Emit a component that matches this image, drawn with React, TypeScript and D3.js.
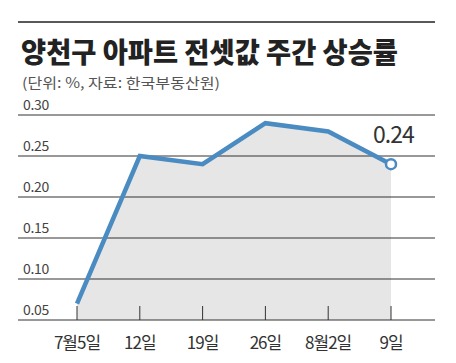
import React from 'react';
import * as d3 from 'd3';

const weeks = ['7월5일', '12일', '19일', '26일', '8월2일', '9일'];
const rates = [0.07, 0.25, 0.24, 0.29, 0.28, 0.24];
const yTicks = [0.05, 0.10, 0.15, 0.20, 0.25, 0.30];

const W = 456;
const H = 363;
const font = "'Noto Sans CJK KR', 'Noto Sans', sans-serif";

export default function App() {
    const x = d3.scalePoint<string>().domain(weeks).range([77, 391]);
    const y = d3.scaleLinear().domain([0.05, 0.30]).range([320, 115]);

    const pts = weeks.map((w, i) => [x(w) as number, y(rates[i])] as [number, number]);
    const line = d3.line<[number, number]>()(pts) as string;
    const area = d3.area<[number, number]>()
        .x(d => d[0])
        .y0(y(0.05))
        .y1(d => d[1])(pts) as string;

    const last = pts[pts.length - 1];

    return (
        <svg width={W} height={H} style={{ position: 'absolute', left: 0, top: 0 }} fontFamily={font}>
            <rect width={W} height={H} fill="#fff" />
            <line x1={18} x2={435} y1={22} y2={22} stroke="#222" strokeWidth={1.5} />
            <text x={21} y={63} fontSize={28} fontWeight={900} fill="#222"
                textLength={377} lengthAdjust="spacingAndGlyphs">
                양천구 아파트 전셋값 주간 상승률
            </text>
            <text x={22} y={87.5} fontSize={14} fill="#555" textLength={198} lengthAdjust="spacingAndGlyphs">
                (단위: %, 자료: 한국부동산원)
            </text>

            <path d={area} fill="#e6e6e6" />

            {yTicks.map(t => (
                <g key={t}>
                    <line x1={18} x2={435} y1={y(t)} y2={y(t)} stroke="#333" strokeWidth={1} />
                    <text x={23} y={y(t) - 5} fontSize={14} fill="#444" letterSpacing={-0.3}>
                        {t.toFixed(2)}
                    </text>
                </g>
            ))}

            {weeks.map(w => (
                <g key={w}>
                    <line x1={x(w)} x2={x(w)} y1={306} y2={y(0.05)} stroke="#333" strokeWidth={1} />
                    <text x={x(w)} y={349} fontSize={17} fill="#333" textAnchor="middle" letterSpacing={-1}>
                        {w}
                    </text>
                </g>
            ))}

            <path d={line} fill="none" stroke="#4a8bc2" strokeWidth={4.5} strokeLinejoin="miter" />
            <circle cx={last[0]} cy={last[1]} r={5} fill="#fff" stroke="#4a8bc2" strokeWidth={2.5} />
            <text x={last[0] - 18} y={143} fontSize={23} fill="#333" letterSpacing={-1}>
                {rates[rates.length - 1].toFixed(2)}
            </text>
        </svg>
    );
}
